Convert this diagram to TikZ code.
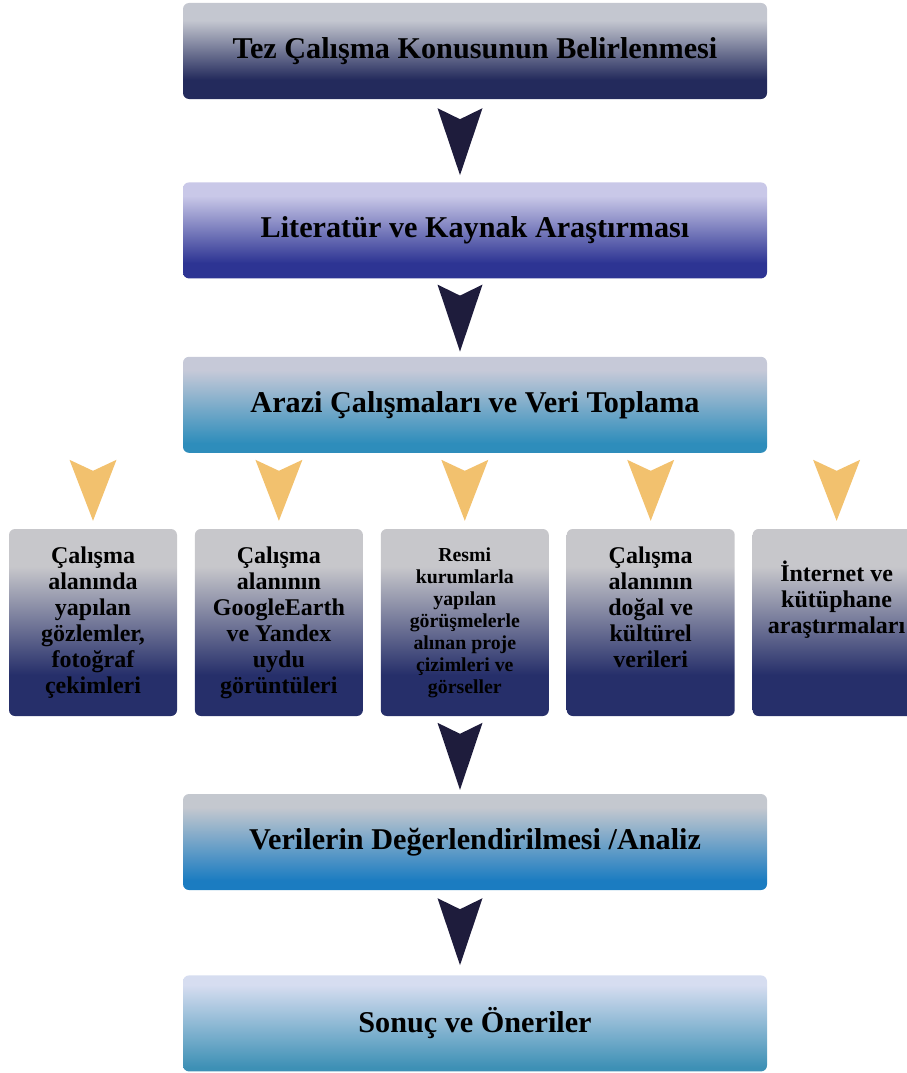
\documentclass[tikz,border=0pt]{standalone}
\usepackage{fontspec}
\setmainfont{Liberation Serif}
\usepackage{xcolor}
\usetikzlibrary{positioning, calc}

\definecolor{konuTop}{HTML}{C4C7D0}
\definecolor{konuBot}{HTML}{232A5C}
\definecolor{litTop}{HTML}{C9C8E8}
\definecolor{litBot}{HTML}{2D3493}
\definecolor{araziTop}{HTML}{C6C9D8}
\definecolor{araziBot}{HTML}{2E8DBB}
\definecolor{smallTop}{HTML}{C7C7CB}
\definecolor{smallBot}{HTML}{262F6A}
\definecolor{analizTop}{HTML}{C4C8CF}
\definecolor{analizBot}{HTML}{1B7CC1}
\definecolor{sonucTop}{HTML}{D6DDF0}
\definecolor{sonucBot}{HTML}{3D90B5}
\definecolor{dartnavy}{HTML}{1E1C3C}
\definecolor{dartgold}{HTML}{F2C16E}

\pgfdeclareverticalshading{shKonu}{100bp}{color(0bp)=(konuBot); color(35bp)=(konuBot); color(66bp)=(konuTop); color(100bp)=(konuTop)}
\pgfdeclareverticalshading{shLit}{100bp}{color(0bp)=(litBot); color(33bp)=(litBot); color(68bp)=(litTop); color(100bp)=(litTop)}
\pgfdeclareverticalshading{shArazi}{100bp}{color(0bp)=(araziBot); color(30bp)=(araziBot); color(68bp)=(araziTop); color(100bp)=(araziTop)}
\pgfdeclareverticalshading{shSmall}{100bp}{color(0bp)=(smallBot); color(36bp)=(smallBot); color(65bp)=(smallTop); color(100bp)=(smallTop)}
\pgfdeclareverticalshading{shAnaliz}{100bp}{color(0bp)=(analizBot); color(30bp)=(analizBot); color(68bp)=(analizTop); color(100bp)=(analizTop)}
\pgfdeclareverticalshading{shSonuc}{100bp}{color(0bp)=(sonucBot); color(27bp)=(sonucBot); color(70bp)=(sonucTop); color(100bp)=(sonucTop)}

\begin{document}
\begin{tikzpicture}[x=1pt, y=-1pt,
    bigbox/.style={rectangle, rounded corners=6pt, minimum width=584pt,
      minimum height=96pt, inner sep=0pt, shade,
      font=\fontsize{30.2}{34}\selectfont\bfseries},
    smallbox/.style={rectangle, rounded corners=6pt, minimum width=168pt,
      minimum height=187pt, inner sep=0pt, shade, shading=shSmall},
    smalltext/.style={inner sep=0pt, align=center,
      font=\fontsize{24}{26}\selectfont\bfseries},
    darkdart/.pic={\fill[dartnavy] (-22.5,0) -- (0,11) -- (22.5,0) -- (0,67) -- cycle;},
    golddart/.pic={\fill[dartgold] (-23.5,0) -- (0,11) -- (23.5,0) -- (0,61) -- cycle;}
    ]
    \useasboundingbox (0,0) rectangle (907,1073);

    % Ana adimlar
    \node[bigbox, shading=shKonu] (Konu) at (475,51)
    {Tez Çalışma Konusunun Belirlenmesi};
    \node[bigbox, shading=shLit, below=83pt of Konu] (Literatur)
    {Literatür ve Kaynak Araştırması};
    \node[bigbox, shading=shArazi, below=78pt of Literatur] (Arazi)
    {Arazi Çalışmaları ve Veri Toplama};

    % Veri kaynaklari
    \node[smallbox] (Gozlem) at (93,622.5) {};
    \node[smallbox, right=17.5pt of Gozlem] (Uydu) {};
    \node[smallbox, right=17.5pt of Uydu] (Kurum) {};
    \node[smallbox, right=17.5pt of Kurum] (DogalVeri) {};
    \node[smallbox, right=17.5pt of DogalVeri] (Internet) {};

    \node[smalltext, below=18pt of Gozlem.north] (GozlemText)
    {Çalışma\\alanında\\yapılan\\gözlemler,\\fotoğraf\\çekimleri};
    \node[smalltext, below=18pt of Uydu.north] (UyduText)
    {Çalışma\\alanının\\GoogleEarth\\ve Yandex\\uydu\\görüntüleri};
    \node[smalltext, font=\fontsize{19.8}{22}\selectfont\bfseries,
      below=19pt of Kurum.north] (KurumText)
    {Resmi\\kurumlarla\\yapılan\\görüşmelerle\\alınan proje\\çizimleri ve\\görseller};
    \node[smalltext, below=18pt of DogalVeri.north] (DogalVeriText)
    {Çalışma\\alanının\\doğal ve\\kültürel\\verileri};
    \node[smalltext, below=32pt of Internet.north] (InternetText)
    {İnternet ve\\kütüphane\\araştırmaları};

    % Son adimlar
    \node[bigbox, shading=shAnaliz] (Analiz) at (475,842)
    {Verilerin Değerlendirilmesi /Analiz};
    \node[bigbox, shading=shSonuc, below=85pt of Analiz] (Sonuc)
    {Sonuç ve Öneriler};

    % Oklar
    \pic at ($(Literatur.north)+(-15,-74)$) {darkdart};
    \pic at ($(Arazi.north)+(-15,-72)$) {darkdart};
    \pic at ($(Analiz.north)+(-15,-71)$) {darkdart};
    \pic at ($(Sonuc.north)+(-15,-77)$) {darkdart};
    \foreach \src in {Gozlem, Uydu, Kurum, DogalVeri, Internet}
      \pic at ($(\src.north)+(0,-69)$) {golddart};

  \end{tikzpicture}
\end{document}
